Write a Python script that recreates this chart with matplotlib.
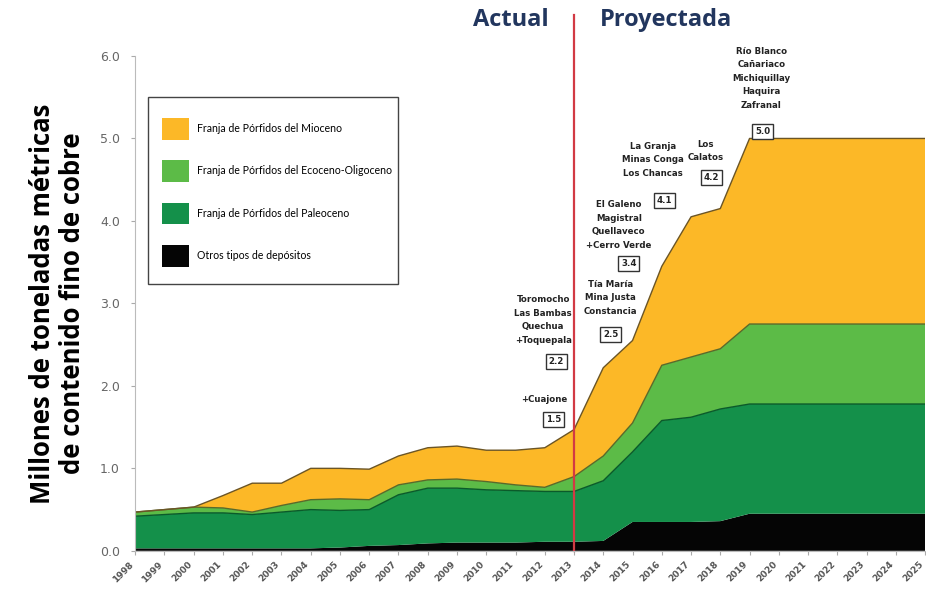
import numpy as np
import matplotlib
import matplotlib.pyplot as plt
from matplotlib.patches import Rectangle

matplotlib.use('Agg')

years = list(range(1998, 2026))
# thickness of each stacked layer (millones de t)
otros = [0.03, 0.03, 0.03, 0.03, 0.03, 0.03, 0.03, 0.04, 0.06, 0.07, 0.09, 0.10, 0.10, 0.10,
         0.11, 0.11, 0.12, 0.35, 0.35, 0.35, 0.36, 0.45, 0.45, 0.45, 0.45, 0.45, 0.45, 0.45]
paleoceno = [0.39, 0.41, 0.43, 0.43, 0.41, 0.44, 0.47, 0.45, 0.44, 0.61, 0.67, 0.66, 0.64, 0.63,
             0.61, 0.61, 0.73, 0.85, 1.23, 1.27, 1.36, 1.33, 1.33, 1.33, 1.33, 1.33, 1.33, 1.33]
eoceno = [0.05, 0.06, 0.07, 0.06, 0.03, 0.08, 0.12, 0.14, 0.12, 0.12, 0.10, 0.11, 0.10, 0.07,
          0.05, 0.18, 0.30, 0.35, 0.67, 0.73, 0.73, 0.97, 0.97, 0.97, 0.97, 0.97, 0.97, 0.97]
mioceno = [0.0, 0.0, 0.0, 0.15, 0.35, 0.27, 0.38, 0.37, 0.37, 0.35, 0.39, 0.40, 0.38, 0.42,
           0.48, 0.57, 1.07, 1.00, 1.20, 1.70, 1.70, 2.25, 2.25, 2.25, 2.25, 2.25, 2.25, 2.25]

labels = ['Otros tipos de depósitos', 'Franja de Pórfidos del Paleoceno',
          'Franja de Pórfidos del Ecoceno-Oligoceno', 'Franja de Pórfidos del Mioceno']
colors = ['#050505', '#14904a', '#5cbb47', '#fcb827']
edges = ['#000000', '#0b5a2a', '#5a6a2a', '#6b5526']

# project notes: box value and names
note_vals = ['1.5', '2.2', '2.5', '3.4', '4.1', '4.2', '5.0']
note_txts = ['+Cuajone',
             'Toromocho\nLas Bambas\nQuechua\n+Toquepala',
             'Tía María\nMina Justa\nConstancia',
             'El Galeno\nMagistral\nQuellaveco\n+Cerro Verde',
             'La Granja\nMinas Conga\nLos Chancas',
             'Los\nCalatos',
             'Río Blanco\nCañariaco\nMichiquillay\nHaquira\nZafranal']
# placement in data coords: text (x, y) and box (x, y)
txt_xy = [(2011.98, 1.83), (2011.95, 2.80), (2014.25, 3.07), (2014.53, 3.95),
          (2015.7, 4.74), (2017.5, 4.85), (2019.4, 5.73)]
box_xy = [(2012.3, 1.59), (2012.4, 2.29), (2014.25, 2.62), (2014.87, 3.48),
          (2016.1, 4.25), (2017.7, 4.53), (2019.45, 5.09)]

fig = plt.figure(figsize=(9.26, 6.02), dpi=100)
ax = fig.add_axes([0.146, 0.085, 0.853, 0.822])

y = np.vstack([otros, paleoceno, eoceno, mioceno])
ax.stackplot(years, y, colors=colors, labels=labels, linewidth=0)
tops = np.cumsum(y, axis=0)
for i in range(1, 4):
    ax.plot(years, tops[i], color=edges[i], linewidth=1.0)

ax.axvline(2013, ymin=0, ymax=1.083, color='#d23a44', linewidth=1.6, clip_on=False)

for txt, val, (tx, ty), (bx, by) in zip(note_txts, note_vals, txt_xy, box_xy):
    ax.text(tx, ty, txt, ha='center', va='center', fontsize=6.2, fontweight='bold',
            family='DejaVu Sans', linespacing=1.65, color='#222222')
    ax.text(bx, by, val, ha='center', va='center', fontsize=6.2, fontweight='bold',
            color='#222222',
            bbox=dict(boxstyle='square,pad=0.35', fc='white', ec='#333333', lw=1.0))

ax.set_xlim(1998, 2025)
ax.set_ylim(0, 6)
ax.set_xticks(years)
ax.set_xticklabels([str(v) for v in years], rotation=45, ha='right', fontsize=6.5,
                   color='#555555', fontweight='bold')
ax.set_yticks(np.arange(0, 7, 1.0))
ax.set_yticklabels(['%.1f' % v for v in np.arange(0, 7, 1.0)], fontsize=9, color='#666666')
ax.tick_params(axis='both', length=3, color='#aaaaaa')
ax.tick_params(axis='y', pad=8)
for s in ['top', 'right']:
    ax.spines[s].set_visible(False)
ax.spines['left'].set_color('#bbbbbb')
ax.spines['bottom'].set_color('#bbbbbb')

ax.set_ylabel('Millones de toneladas métricas\nde contenido fino de cobre', fontsize=18.5,
              fontweight='bold', family='Open Sans', labelpad=10, linespacing=1.15)

fig.text(511 / 926, 1 - 20 / 602, 'Actual', ha='center', va='center', fontsize=17,
         fontweight='bold', color='#22365e', family='Open Sans')
fig.text(666 / 926, 1 - 20 / 602, 'Proyectada', ha='center', va='center', fontsize=17,
         fontweight='bold', color='#22365e', family='Open Sans')

# legend frame drawn by hand, entries without frame
ax.add_patch(Rectangle((0.016, 0.539), 0.317, 0.378, transform=ax.transAxes, fill=True,
                       facecolor='white', edgecolor='#444444', linewidth=1.0, zorder=4))
handles, labs = ax.get_legend_handles_labels()
leg = ax.legend(handles[::-1], labs[::-1], loc='upper left', bbox_to_anchor=(0.034, 0.875),
                frameon=False, handlelength=2.6, handleheight=2.8,
                labelspacing=1.95, borderpad=0, handletextpad=0.7, borderaxespad=0,
                prop={'family': 'Lato', 'size': 7.6})
leg.set_zorder(5)

fig.savefig('out.png', dpi=100)
